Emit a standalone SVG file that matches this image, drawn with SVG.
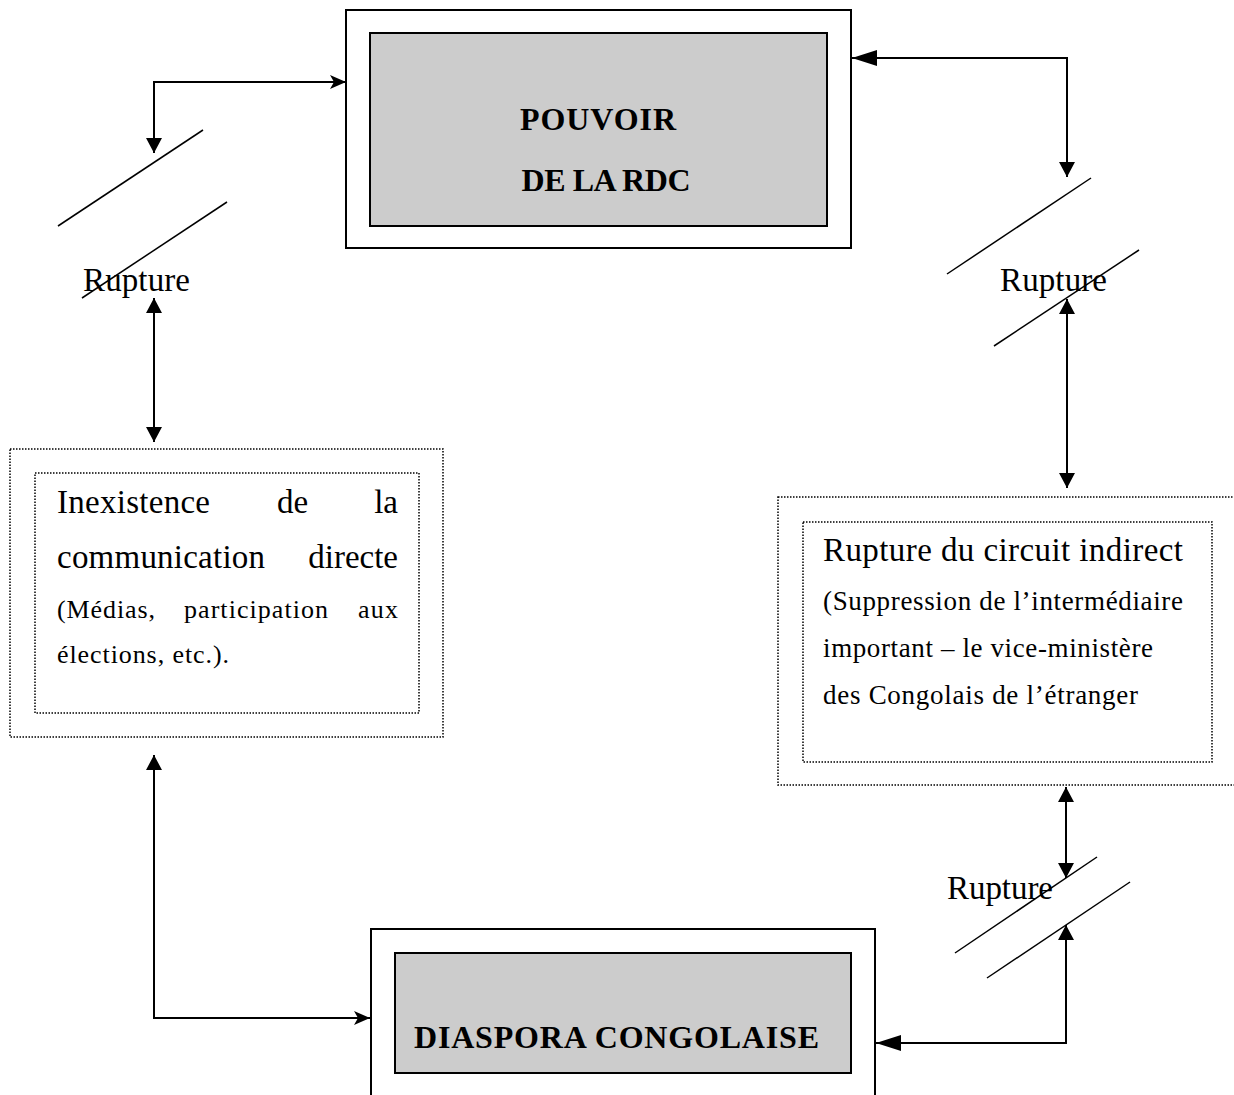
<svg xmlns="http://www.w3.org/2000/svg" width="1234" height="1095" viewBox="0 0 1234 1095">
<style>
.solid{fill:none;stroke:#000;stroke-width:2}
.gray{fill:#cccccc;stroke:#000;stroke-width:2}
.dot{fill:none;stroke:#000;stroke-width:1.5;stroke-dasharray:1.5 1.5}
.conn{fill:none;stroke:#000;stroke-width:2}
.slash{fill:none;stroke:#000;stroke-width:1.5}
.t{font-family:"Liberation Serif","Times New Roman",serif;fill:#000}
.big{font-size:33px}
.small{font-size:26px}
.smallr{font-size:27px}
.bold{font-size:32px;font-weight:bold}
</style>
<defs>
<marker id="tri" markerUnits="userSpaceOnUse" markerWidth="16" markerHeight="16" refX="15" refY="8" orient="auto-start-reverse" viewBox="0 0 16 16">
<path d="M0,0 L15,8 L0,16 z" fill="#000"/>
</marker>
<marker id="trilong" markerUnits="userSpaceOnUse" markerWidth="26" markerHeight="16" refX="25" refY="8" orient="auto-start-reverse" viewBox="0 0 26 16">
<path d="M0,0 L25,8 L0,16 z" fill="#000"/>
</marker>
<marker id="stealth" markerUnits="userSpaceOnUse" markerWidth="17" markerHeight="14" refX="16" refY="7" orient="auto" viewBox="0 0 17 14">
<path d="M0,0 L16,7 L0,14 L4,7 z" fill="#000"/>
</marker>
</defs>
<rect width="1234" height="1095" fill="#fff"/>

<g id="pouvoir">
<rect class="solid" x="346" y="10" width="505" height="238"/>
<rect class="gray" x="370" y="33" width="457" height="193"/>
<text class="t bold" x="598" y="130" text-anchor="middle" textLength="156">POUVOIR</text>
<text class="t bold" x="606" y="191" text-anchor="middle" textLength="169">DE LA RDC</text>
</g>

<g id="diaspora">
<rect class="solid" x="371" y="929" width="504" height="180"/>
<rect class="gray" x="395" y="953" width="456" height="120"/>
<text class="t bold" x="414" y="1048" textLength="405">DIASPORA CONGOLAISE</text>
</g>

<g id="inexistence">
<rect class="dot" x="10" y="449" width="433" height="288"/>
<rect class="dot" x="35" y="473" width="384" height="240"/>
<text class="t big" x="57" y="513" textLength="153">Inexistence</text>
<text class="t big" x="277" y="513">de</text>
<text class="t big" x="398" y="513" text-anchor="end">la</text>
<text class="t big" x="57" y="568" textLength="208">communication</text>
<text class="t big" x="398" y="568" text-anchor="end">directe</text>
<text class="t small" x="57" y="618" textLength="98">(Médias,</text>
<text class="t small" x="184" y="618" textLength="144">participation</text>
<text class="t small" x="358" y="618" textLength="40">aux</text>
<text class="t small" x="57" y="663" textLength="172">élections, etc.).</text>
</g>

<g id="rupture-circuit">
<rect class="dot" x="778" y="497" width="470" height="288"/>
<rect class="dot" x="803" y="522" width="409" height="240"/>
<text class="t big" x="823" y="561" textLength="360">Rupture du circuit indirect</text>
<text class="t smallr" x="823" y="610" textLength="360">(Suppression de l’intermédiaire</text>
<text class="t smallr" x="823" y="657" textLength="330">important – le vice-ministère</text>
<text class="t smallr" x="823" y="704" textLength="315">des Congolais de l’étranger</text>
</g>

<g id="rupture-left">
<line class="slash" x1="58" y1="226" x2="203" y2="130"/>
<line class="slash" x1="82" y1="298" x2="227" y2="202"/>
<text class="t big" x="83" y="291" textLength="107">Rupture</text>
</g>

<g id="rupture-right">
<line class="slash" x1="947" y1="274" x2="1091" y2="178"/>
<line class="slash" x1="994" y1="346" x2="1139" y2="250"/>
<text class="t big" x="1000" y="291" textLength="107">Rupture</text>
</g>

<g id="rupture-bottom">
<line class="slash" x1="955" y1="953" x2="1097" y2="857"/>
<line class="slash" x1="987" y1="978" x2="1130" y2="882"/>
<text class="t big" x="947" y="899" textLength="106">Rupture</text>
</g>

<g id="connectors">
<path class="conn" d="M154,153 L154,82 L346,82" marker-start="url(#tri)" marker-end="url(#stealth)"/>
<path class="conn" d="M154,298 L154,442" marker-start="url(#tri)" marker-end="url(#tri)"/>
<path class="conn" d="M154,755 L154,1018 L370,1018" marker-start="url(#tri)" marker-end="url(#stealth)"/>
<path class="conn" d="M1067,177 L1067,58 L852,58" marker-start="url(#tri)" marker-end="url(#trilong)"/>
<path class="conn" d="M1067,299 L1067,488" marker-start="url(#tri)" marker-end="url(#tri)"/>
<path class="conn" d="M1066,787 L1066,878" marker-start="url(#tri)" marker-end="url(#tri)"/>
<path class="conn" d="M1066,925 L1066,1043 L876,1043" marker-start="url(#tri)" marker-end="url(#trilong)"/>
</g>
</svg>
